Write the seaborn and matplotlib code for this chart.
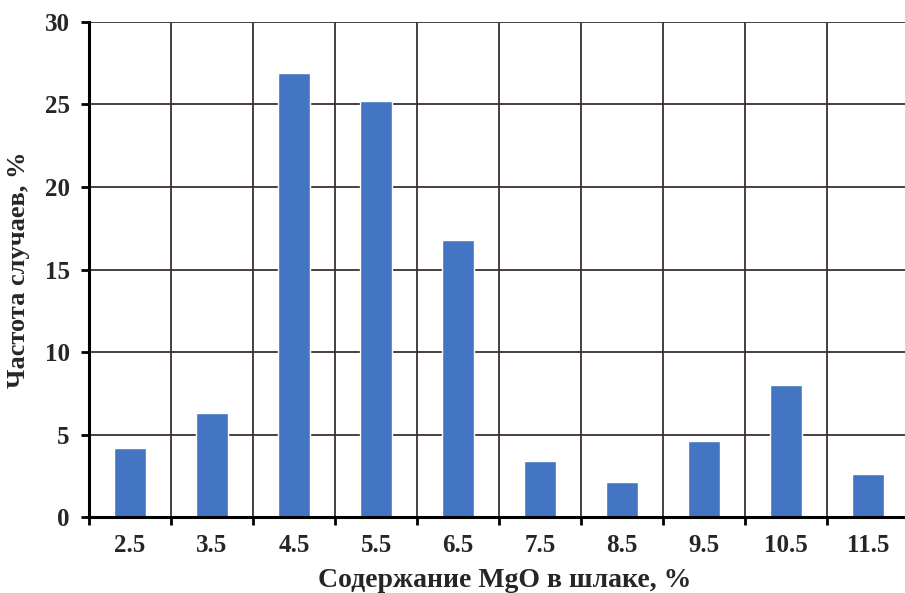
import numpy as np
import matplotlib
matplotlib.use("Agg")
import matplotlib.pyplot as plt
import seaborn as sns

# ---- data ----
mgo_labels = ["2.5", "3.5", "4.5", "5.5", "6.5", "7.5", "8.5", "9.5", "10.5", "11.5"]
frequency = [4.2, 6.3, 26.9, 25.2, 16.8, 3.4, 2.1, 4.6, 8.0, 2.6]
y_ticks = [0, 5, 10, 15, 20, 25, 30]

sns.set_theme(style="white")
plt.rcParams["font.family"] = ["Liberation Serif", "DejaVu Serif"]
plt.rcParams["font.weight"] = "bold"

fig = plt.figure(figsize=(9.05, 5.93), dpi=100)
ax = fig.add_axes([0.0983, 0.128, 0.9017, 0.835])

sns.barplot(x=mgo_labels, y=frequency, order=mgo_labels, color="#4475c3",
            saturation=1, width=0.4, ax=ax, zorder=3)

n = len(mgo_labels)
ax.set_xlim(-0.5, n - 0.55)
ax.set_ylim(0, 30)
ax.set_yticks(y_ticks)
ax.set_xticks(np.arange(n))
ax.set_xticklabels(mgo_labels)
ax.set_xticks(np.arange(n) - 0.5, minor=True)

grid_color = "#3a3232"
ax.grid(False)
ax.yaxis.grid(True, which="major", color=grid_color, linewidth=1.3, zorder=1)
ax.xaxis.grid(True, which="minor", color=grid_color, linewidth=1.3, zorder=1)
ax.set_axisbelow(True)

for side in ["top", "right"]:
    ax.spines[side].set_visible(False)
for side in ["left", "bottom"]:
    ax.spines[side].set_color("black")
    ax.spines[side].set_linewidth(2.2)
    ax.spines[side].set_zorder(4)

ax.tick_params(axis="x", which="major", length=0, pad=12, labelsize=18)
ax.tick_params(axis="x", which="minor", length=6, width=2, color="black",
               direction="out", bottom=True)
ax.tick_params(axis="y", which="major", length=6, width=2, color="black",
               direction="out", left=True, pad=8, labelsize=18)

for lbl in ax.get_xticklabels() + ax.get_yticklabels():
    lbl.set_fontweight("bold")

ax.set_xlabel("Содержание MgO в шлаке, %", fontsize=20, fontweight="bold")
ax.set_ylabel("Частота случаев, %", fontsize=19, fontweight="bold")
ax.xaxis.set_label_coords(0.51, -0.103)
ax.yaxis.set_label_coords(-0.072, 0.5)

fig.savefig("out.png", dpi=100, facecolor="white")
